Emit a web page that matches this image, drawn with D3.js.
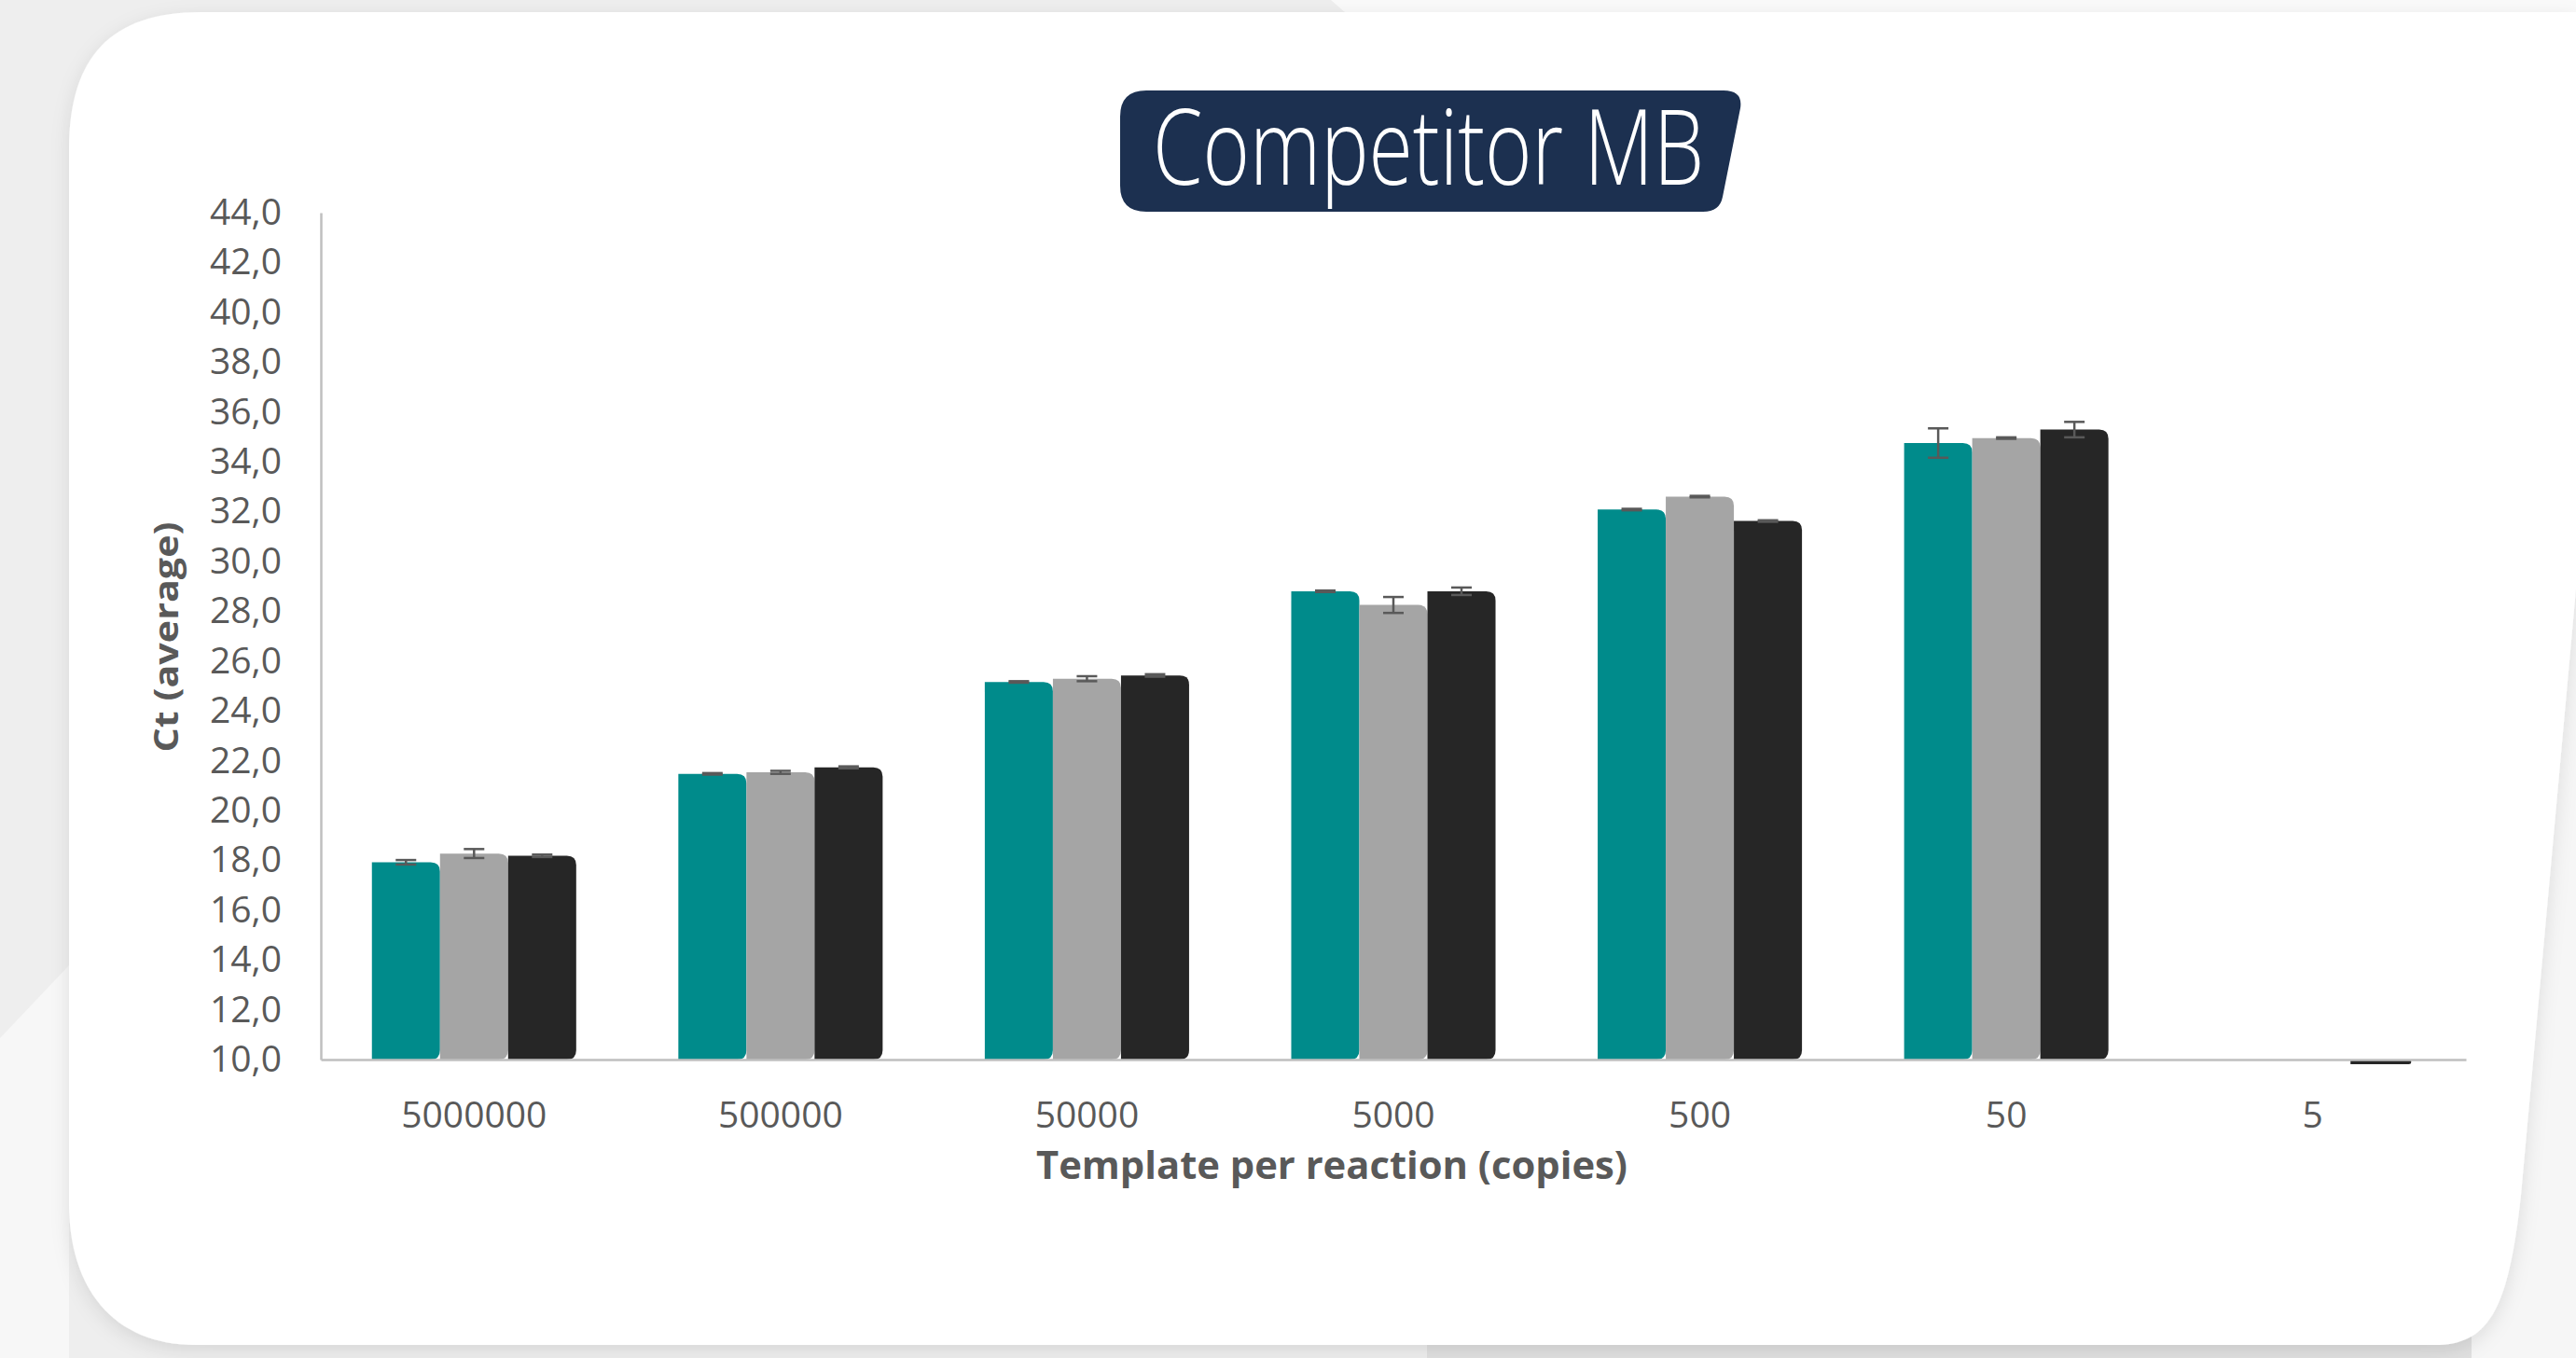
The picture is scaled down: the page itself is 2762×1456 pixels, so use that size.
<!DOCTYPE html>
<html>
<head>
<meta charset="utf-8">
<script src="https://cdn.jsdelivr.net/npm/d3@7"></script>
<style>
  body { margin: 0; background: #efefef; }
  svg { display: block; }
</style>
</head>
<body>
<script>
// chart data
var categories = ['5000000', '500000', '50000', '5000', '500', '50', '5'];
var seriesKeys = ['s1', 's2', 's3'];
var seriesColors = ['#008b8b', '#a5a5a5', '#262626'];
var tealValues = [17.92, 21.47, 25.16, 28.80, 32.08, 34.75, null];
var grayValues = [18.27, 21.53, 25.29, 28.25, 32.60, 34.95, null];
var blackValues = [18.18, 21.73, 25.42, 28.80, 31.62, 35.29, 0];
var tealErrors = [0.09, 0.03, 0.03, 0.03, 0.03, 0.59, 0];
var grayErrors = [0.18, 0.06, 0.10, 0.32, 0.03, 0.03, 0];
var blackErrors = [0.05, 0.04, 0.05, 0.15, 0.03, 0.31, 0];
var yTicks = [10, 12, 14, 16, 18, 20, 22, 24, 26, 28, 30, 32, 34, 36, 38, 40, 42, 44];

var W = 2762, H = 1456;
var svg = d3.select('body').append('svg').attr('width', W).attr('height', H);

// background card
var defs = svg.append('defs');
var sh = defs.append('filter').attr('id', 'shadow').attr('x', '-5%').attr('y', '-5%').attr('width', '110%').attr('height', '115%');
sh.append('feDropShadow').attr('dx', 0).attr('dy', 6).attr('stdDeviation', 10).attr('flood-color', '#000').attr('flood-opacity', 0.1);

svg.append('rect').attr('width', W).attr('height', H).attr('fill', '#eeeeee');
svg.append('path').attr('d', 'M1427,0 L2762,0 L2762,700 L2700,700 L1443,14 Z').attr('fill', '#fafafa');
svg.append('path').attr('d', 'M0,1113 L74,1035 L74,1456 L0,1456 Z').attr('fill', '#f7f7f7');
svg.append('path').attr('d', 'M2762,600 L2762,1456 L2600,1456 Z').attr('fill', '#f6f6f6');
svg.append('rect').attr('x', 1530).attr('y', 1420).attr('width', 1120).attr('height', 36).attr('fill', '#e0e0e0');
svg.append('path')
  .attr('d', 'M74,160 C74,60 120,13 215,13 L1443,13 L2762,13 L2762,631 L2703,1281 C2690,1400 2670,1440 2615,1442 L210,1442 C120,1442 74,1380 74,1290 Z')
  .attr('fill', '#ffffff')
  .attr('filter', 'url(#shadow)');

// scales
var x0 = d3.scaleBand().domain(categories).range([344, 2644]).paddingInner(1 / 3).paddingOuter(1 / 6);
var x1 = d3.scaleBand().domain(seriesKeys).range([0, x0.bandwidth()]);
var y = d3.scaleLinear().domain([10, 44]).range([1136, 228]);

var textColor = '#595959';

// title
svg.append('path')
  .attr('d', 'M1229,97 H1848 Q1869,97 1866,116 L1847,211 Q1844,227 1826,227 H1229 Q1201,227 1201,199 V125 Q1201,97 1229,97 Z')
  .attr('fill', '#1c3050');
svg.append('text')
  .attr('x', 1236).attr('y', 198)
  .attr('font-family', 'Open Sans').attr('font-weight', 300).attr('font-size', 112)
  .attr('textLength', 591).attr('lengthAdjust', 'spacingAndGlyphs')
  .attr('fill', '#ffffff')
  .text('Competitor MB');

// axes
var yAxis = svg.append('g').attr('transform', 'translate(344,0)')
  .call(d3.axisLeft(y).tickValues(yTicks).tickSize(0).tickPadding(42)
    .tickFormat(function (d) { return d3.format('.1f')(d).replace('.', ','); }));
yAxis.select('.domain').attr('stroke', '#bfbfbf').attr('stroke-width', 2.5);
yAxis.selectAll('text').attr('font-family', 'Open Sans').attr('font-size', 39).attr('fill', textColor);

var series = [
  { key: 's1', values: tealValues, errors: tealErrors, color: seriesColors[0] },
  { key: 's2', values: grayValues, errors: grayErrors, color: seriesColors[1] },
  { key: 's3', values: blackValues, errors: blackErrors, color: seriesColors[2] }
];

function barPath(x, top, w, h, r) {
  r = Math.min(r, w / 2, h / 2);
  return 'M' + x + ',' + top + ' H' + (x + w - r) + ' Q' + (x + w) + ',' + top + ' ' + (x + w) + ',' + (top + r) +
    ' V' + (top + h - r) + ' Q' + (x + w) + ',' + (top + h) + ' ' + (x + w - r) + ',' + (top + h) + ' H' + x + ' Z';
}

defs.append('clipPath').attr('id', 'plotclip')
  .append('rect').attr('x', 344).attr('y', 200).attr('width', 2310).attr('height', 1141 - 200);

var plot = svg.append('g').attr('clip-path', 'url(#plotclip)');
var bars = [];
series.forEach(function (s) {
  s.values.forEach(function (v, i) {
    if (v === null) return;
    bars.push({ cat: categories[i], key: s.key, value: v, err: s.errors[i], color: s.color });
  });
});

plot.selectAll('path.bar').data(bars).enter().append('path')
  .attr('class', 'bar')
  .attr('fill', function (d) { return d.color; })
  .attr('d', function (d) {
    var bx = x0(d.cat) + x1(d.key);
    var top = Math.min(y(d.value), y(10));
    var h = Math.abs(y(d.value) - y(10));
    if (d.value < 10) return barPath(bx + 4, y(10), x1.bandwidth() - 8, 5, 4);
    return barPath(bx, top, x1.bandwidth(), h, 10);
  });

var xAxis = svg.append('g').attr('transform', 'translate(0,1136)')
  .call(d3.axisBottom(x0).tickSize(0).tickPadding(45));
xAxis.select('.domain').attr('stroke', '#bfbfbf').attr('stroke-width', 2.5);
xAxis.selectAll('text').attr('font-family', 'Open Sans').attr('font-size', 39).attr('fill', textColor);

// error bars
var eb = svg.append('g').attr('stroke', '#595959').attr('stroke-width', 2.5);
bars.filter(function (d) { return d.value >= 10; }).forEach(function (d) {
  var cx = x0(d.cat) + x1(d.key) + x1.bandwidth() / 2;
  var yt = y(d.value + d.err), yb = y(d.value - d.err);
  eb.append('line').attr('x1', cx).attr('x2', cx).attr('y1', yt).attr('y2', yb);
  eb.append('line').attr('x1', cx - 11).attr('x2', cx + 11).attr('y1', yt).attr('y2', yt);
  eb.append('line').attr('x1', cx - 11).attr('x2', cx + 11).attr('y1', yb).attr('y2', yb);
});

// axis titles
svg.append('text')
  .attr('transform', 'translate(191,683) rotate(-90)')
  .attr('text-anchor', 'middle')
  .attr('font-family', 'Open Sans').attr('font-weight', 700).attr('font-size', 36)
  .attr('textLength', 247).attr('lengthAdjust', 'spacingAndGlyphs')
  .attr('fill', textColor)
  .text('Ct (average)');

svg.append('text')
  .attr('x', 1111).attr('y', 1264)
  .attr('font-family', 'Open Sans').attr('font-weight', 700).attr('font-size', 42)
  .attr('textLength', 634).attr('lengthAdjust', 'spacingAndGlyphs')
  .attr('fill', textColor)
  .text('Template per reaction (copies)');
</script>
</body>
</html>
